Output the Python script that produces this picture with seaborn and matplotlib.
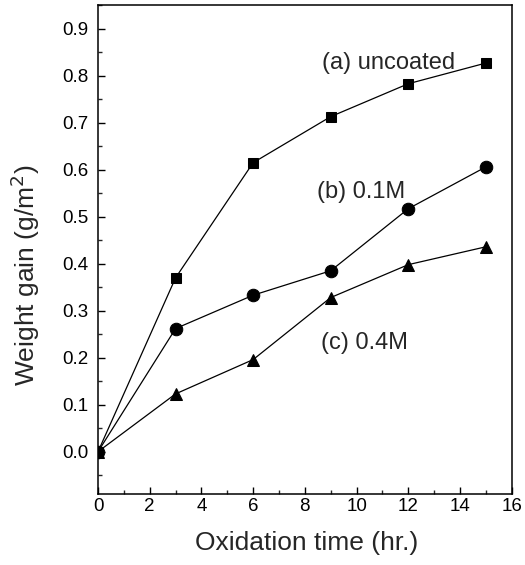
import matplotlib
matplotlib.use("Agg")
import matplotlib.pyplot as plt
import seaborn as sns
import pandas as pd
from matplotlib.ticker import MultipleLocator

time_hr = [0, 3, 6, 9, 12, 15]
uncoated = [0.0, 0.37, 0.615, 0.713, 0.783, 0.827]
coat_01M = [0.0, 0.262, 0.333, 0.385, 0.517, 0.606]
coat_04M = [0.0, 0.123, 0.196, 0.328, 0.398, 0.436]
series_labels = ["(a) uncoated", "(b) 0.1M", "(c) 0.4M"]
x_ticks = [0, 2, 4, 6, 8, 10, 12, 14, 16]
y_ticks = [0.0, 0.1, 0.2, 0.3, 0.4, 0.5, 0.6, 0.7, 0.8, 0.9]

sns.set_theme(style="ticks")
plt.rcParams['font.family'] = ['Liberation Sans', 'DejaVu Sans']

df = pd.DataFrame({
    "time": time_hr * 3,
    "gain": uncoated + coat_01M + coat_04M,
    "series": [series_labels[0]] * 6 + [series_labels[1]] * 6 + [series_labels[2]] * 6,
})

fig = plt.figure(figsize=(5.25, 5.65), dpi=100)
ax = fig.add_axes([0.1867, 0.1257, 0.788, 0.865])

markers = {series_labels[0]: "s", series_labels[1]: "o", series_labels[2]: "^"}
sizes = {series_labels[0]: 7.5, series_labels[1]: 9, series_labels[2]: 9}
for lab in series_labels:
    sub = df[df["series"] == lab]
    sns.lineplot(data=sub, x="time", y="gain", ax=ax, color="black", lw=0.9,
                 marker=markers[lab], markersize=sizes[lab], markeredgecolor="black",
                 markerfacecolor="black", legend=False)

ax.set_xlim(0, 16)
ax.set_ylim(-0.09, 0.95)
ax.set_xticks(x_ticks)
ax.set_yticks(y_ticks)
ax.set_yticklabels([f"{v:.1f}" for v in y_ticks])
ax.xaxis.set_minor_locator(MultipleLocator(1))
ax.yaxis.set_minor_locator(MultipleLocator(0.05))
ax.tick_params(which="major", direction="in", length=5, width=1, labelsize=13.5, colors="black")
ax.tick_params(axis="x", which="major", pad=3)
ax.tick_params(axis="y", which="major", pad=7)
ax.tick_params(which="minor", direction="in", length=3, width=1)
ax.tick_params(axis="both", top=False, right=False)
for s in ax.spines.values():
    s.set_color("black")
    s.set_linewidth(1.1)

ax.set_xlabel("Oxidation time (hr.)", fontsize=19)
ax.set_ylabel("Weight gain (g/m$^2$)", fontsize=19)
ax.xaxis.set_label_coords(0.504, -0.10)
ax.yaxis.set_label_coords(-0.176, 0.448)
ax.xaxis.label.set_va("center")
ax.yaxis.label.set_va("center")

ax.text(8.67, 0.828, series_labels[0], fontsize=17, va="center", ha="left")
ax.text(8.48, 0.553, series_labels[1], fontsize=17, va="center", ha="left")
ax.text(8.63, 0.232, series_labels[2], fontsize=17, va="center", ha="left")

fig.savefig("out.png", dpi=100)
